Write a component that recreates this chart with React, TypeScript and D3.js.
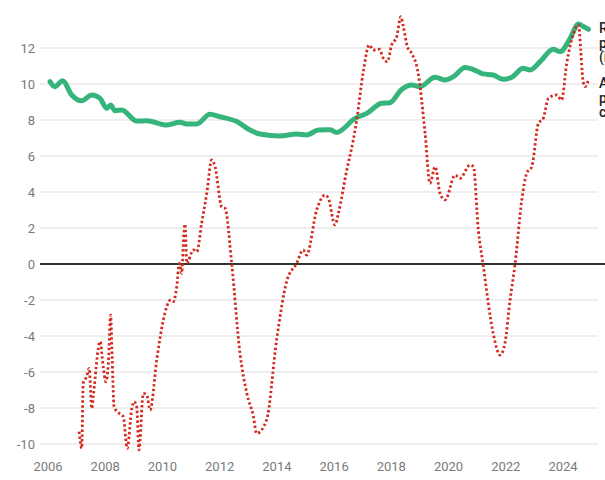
import React from "react";
import * as d3 from "d3";

const greenDates = [2006.07, 2006.24, 2006.51, 2006.83, 2007.18, 2007.53, 2007.82, 2008.05, 2008.19, 2008.34, 2008.58, 2009.1, 2009.45, 2010.15, 2010.61, 2010.85, 2011.2, 2011.66, 2012.01, 2012.6, 2013.06, 2013.41, 2014.11, 2014.69, 2015.04, 2015.45, 2015.86, 2016.09, 2016.73, 2017.14, 2017.66, 2017.95, 2018.36, 2018.71, 2019.0, 2019.53, 2019.88, 2020.17, 2020.58, 2020.98, 2021.21, 2021.56, 2021.91, 2022.21, 2022.61, 2022.85, 2023.2, 2023.66, 2023.9, 2024.25, 2024.54, 2024.71, 2024.89];
const greenValues = [10.13, 9.85, 10.18, 9.39, 9.07, 9.39, 9.2, 8.65, 8.83, 8.52, 8.56, 7.94, 7.96, 7.72, 7.87, 7.78, 7.78, 8.32, 8.18, 7.91, 7.44, 7.22, 7.11, 7.22, 7.17, 7.44, 7.46, 7.31, 8.09, 8.37, 8.93, 8.96, 9.7, 9.94, 9.85, 10.37, 10.22, 10.41, 10.91, 10.72, 10.56, 10.5, 10.26, 10.37, 10.87, 10.78, 11.24, 11.93, 11.8, 12.54, 13.33, 13.19, 13.04];

const redDates = [2007.09, 2007.18, 2007.23, 2007.35, 2007.44, 2007.53, 2007.58, 2007.82, 2007.93, 2008.02, 2008.11, 2008.19, 2008.23, 2008.31, 2008.42, 2008.63, 2008.77, 2008.93, 2009.01, 2009.1, 2009.18, 2009.33, 2009.45, 2009.57, 2009.8, 2010.03, 2010.15, 2010.29, 2010.38, 2010.5, 2010.59, 2010.67, 2010.75, 2010.79, 2010.85, 2011.08, 2011.2, 2011.37, 2011.55, 2011.72, 2011.84, 2012.07, 2012.19, 2012.42, 2012.71, 2012.95, 2013.18, 2013.29, 2013.64, 2013.99, 2014.34, 2014.69, 2014.92, 2015.04, 2015.39, 2015.68, 2015.8, 2016.03, 2016.15, 2016.44, 2016.67, 2016.79, 2017.02, 2017.23, 2017.37, 2017.58, 2017.72, 2017.86, 2018.01, 2018.19, 2018.33, 2018.42, 2018.56, 2018.71, 2018.94, 2019.18, 2019.35, 2019.53, 2019.7, 2019.88, 2020.23, 2020.4, 2020.75, 2020.87, 2021.04, 2021.21, 2021.56, 2021.8, 2021.97, 2022.15, 2022.32, 2022.56, 2022.73, 2022.91, 2023.14, 2023.31, 2023.49, 2023.78, 2023.95, 2024.13, 2024.37, 2024.54, 2024.62, 2024.69, 2024.77, 2024.89];
const redValues = [-9.31, -10.24, -6.63, -6.26, -5.8, -8.02, -7.37, -4.31, -5.7, -6.54, -5.52, -2.83, -4.59, -7.93, -8.2, -8.48, -10.24, -8.02, -7.65, -7.93, -10.33, -7.19, -7.28, -8.11, -5.33, -3.11, -2.37, -2.0, -2.09, -1.26, 0.04, -0.52, 1.7, 2.22, 0.04, 0.78, 0.68, 2.26, 3.93, 5.78, 5.41, 3.18, 3.09, 0.04, -4.96, -7.19, -8.48, -9.41, -8.67, -4.22, -0.98, 0.04, 0.78, 0.5, 3.0, 3.83, 3.65, 2.17, 2.82, 5.2, 6.89, 8.0, 10.69, 12.17, 11.89, 11.93, 11.43, 11.24, 12.17, 12.63, 13.74, 13.19, 12.07, 11.7, 10.59, 7.26, 4.48, 5.41, 3.93, 3.56, 4.94, 4.76, 5.5, 5.41, 1.9, -0.06, -3.85, -5.06, -4.41, -2.0, -0.06, 3.56, 5.04, 5.41, 7.81, 8.09, 9.2, 9.39, 9.11, 11.15, 12.81, 13.28, 11.89, 10.31, 9.85, 10.22];

const yTicks = [-10, -8, -6, -4, -2, 0, 2, 4, 6, 8, 10, 12];
const xTicks = [2006, 2008, 2010, 2012, 2014, 2016, 2018, 2020, 2022, 2024];
const greenLabel = ["Real house", "prices", "(index)"];
const redLabel = ["Annual", "price", "change (%)"];

const W = 605;
const H = 480;

export default function App() {
  const x = d3.scaleLinear().domain([2006, 2024]).range([48, 563]);
  const y = d3.scaleLinear().domain([0, 12]).range([264, 48]);

  const green = greenDates.map((d, i) => [d, greenValues[i]] as [number, number]);
  const red = redDates.map((d, i) => [d, redValues[i]] as [number, number]);

  const line = d3
    .line<[number, number]>()
    .x((d) => x(d[0]))
    .y((d) => y(d[1]))
    .curve(d3.curveMonotoneX);

  const font = "Roboto, 'Noto Sans', sans-serif";

  return (
    <svg
      width={W}
      height={H}
      style={{ position: "absolute", left: 0, top: 0, background: "#fff" }}
      fontFamily={font}
    >
      {yTicks.map((t) => (
        <g key={t}>
          {t !== 0 && (
            <line x1={40} x2={598} y1={y(t)} y2={y(t)} stroke="#dedede" strokeWidth={1.2} />
          )}
          <text
            x={35}
            y={y(t)}
            dy="0.35em"
            textAnchor="end"
            fontSize={13}
            fill="#7a7a7a"
          >
            {t < 0 ? "-" + Math.abs(t) : String(t)}
          </text>
        </g>
      ))}
      {xTicks.map((t) => (
        <text key={t} x={x(t)} y={471} textAnchor="middle" fontSize={13} fill="#7a7a7a">
          {t}
        </text>
      ))}
      <line x1={40} x2={605} y1={y(0)} y2={y(0)} stroke="#333" strokeWidth={2} />
      <path
        d={line(green) || ""}
        fill="none"
        stroke="#35b47c"
        strokeWidth={5}
        strokeLinejoin="round"
        strokeLinecap="round"
      />
      <path
        d={line(red) || ""}
        fill="none"
        stroke="#d42a1e"
        strokeWidth={2.8}
        strokeDasharray="2.4,2.4"
      />
      {greenLabel.map((s, i) => (
        <text key={s} x={599} y={33 + i * 14.5} fontSize={14} fill="#222" fontWeight={500}>
          {s}
        </text>
      ))}
      {redLabel.map((s, i) => (
        <text key={s} x={599} y={88 + i * 14.5} fontSize={14} fill="#222" fontWeight={500}>
          {s}
        </text>
      ))}
    </svg>
  );
}
